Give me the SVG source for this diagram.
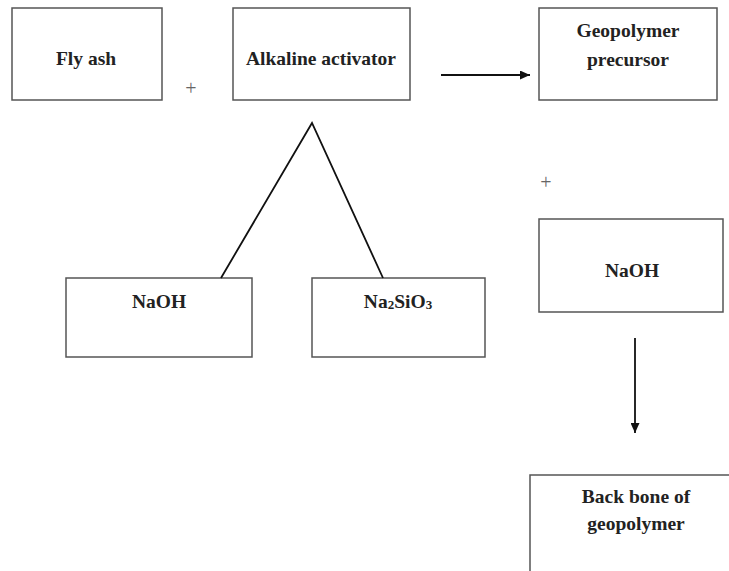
<svg xmlns="http://www.w3.org/2000/svg" width="729" height="571" viewBox="0 0 729 571">
<defs>
<marker id="ah" viewBox="0 0 10 10" refX="10" refY="5" markerWidth="10" markerHeight="9" markerUnits="userSpaceOnUse" orient="auto" preserveAspectRatio="none">
<path d="M0,0 L10,5 L0,10 z" fill="#111"/>
</marker>
<style>
.box{fill:#fff;stroke:#555;stroke-width:1.5}
.t{font-family:"Liberation Serif","Times New Roman",serif;font-weight:bold;font-size:19.5px;fill:#222;text-anchor:middle}
.p{font-family:"Liberation Serif","Times New Roman",serif;font-size:20px;fill:#666;text-anchor:middle}
.c{stroke:#111;stroke-width:1.8;fill:none}
</style>
</defs>
<rect width="729" height="571" fill="#fff"/>
<g id="flyash"><rect class="box" x="12" y="8" width="150" height="92"/><text class="t" x="86" y="65">Fly ash</text></g>
<g id="activator"><rect class="box" x="233" y="8" width="177" height="92"/><text class="t" x="321" y="65">Alkaline activator</text></g>
<g id="precursor"><rect class="box" x="539" y="8" width="178" height="92"/><text class="t" x="628" y="37">Geopolymer</text><text class="t" x="628" y="66">precursor</text></g>
<g id="naoh1"><rect class="box" x="66" y="278" width="186" height="79"/><text class="t" x="159" y="308">NaOH</text></g>
<g id="na2sio3"><rect class="box" x="312" y="278" width="173" height="79"/><text class="t" x="398" y="308">Na<tspan font-size="13" dy="1">2</tspan><tspan dy="-1">SiO</tspan><tspan font-size="13" dy="1">3</tspan></text></g>
<g id="naoh2"><rect class="box" x="539" y="219" width="184" height="93"/><text class="t" x="632" y="277">NaOH</text></g>
<g id="backbone"><rect class="box" x="530" y="475" width="210" height="110"/><text class="t" x="636" y="503">Back bone of</text><text class="t" x="636" y="530">geopolymer</text></g>
<g id="plus"><text class="p" x="191" y="95">+</text><text class="p" x="546" y="189">+</text></g>
<g id="connectors">
<line class="c" x1="441" y1="75" x2="530" y2="75" marker-end="url(#ah)"/>
<polyline class="c" points="221,278 312,123 383,278"/>
<line class="c" x1="635" y1="338" x2="635" y2="433" marker-end="url(#ah)"/>
</g>
</svg>
